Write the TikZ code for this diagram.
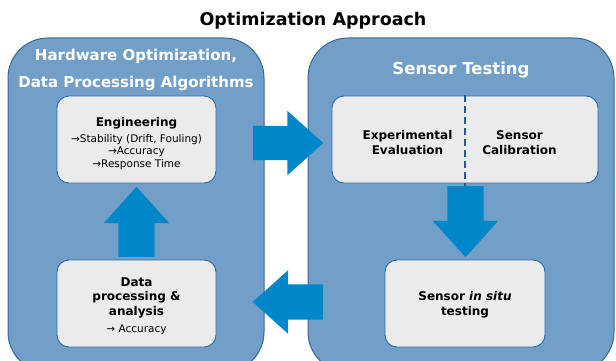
\documentclass[tikz,border=0pt]{standalone}
\usepackage{fontspec}
\setmainfont{DejaVu Sans}
\usetikzlibrary{shapes.arrows,positioning}
\definecolor{panelblue}{RGB}{114,159,199}
\definecolor{paneledge}{RGB}{50,104,158}
\definecolor{boxgray}{RGB}{235,235,235}
\definecolor{boxedge}{RGB}{44,106,168}
\definecolor{arrowblue}{RGB}{0,135,201}
\definecolor{dashblue}{RGB}{33,92,153}
\begin{document}
\begin{tikzpicture}[x=1pt,y=-1pt]

  % Definitions
  \tikzstyle{panel} = [rectangle, rounded corners=40pt, minimum height=334pt, draw=paneledge, fill=panelblue, line width=1pt]
  \tikzstyle{paneltitle} = [text=white, align=center]
  \tikzstyle{stage} = [rectangle, rounded corners=12pt, minimum height=87pt, draw=boxedge, fill=boxgray, line width=0.9pt]
  \tikzstyle{stagetext} = [align=center, font=\bfseries\fontsize{12}{14.5}\selectfont]
  \tikzstyle{blockarrow} = [single arrow, fill=arrowblue, inner xsep=0pt, single arrow tip angle=84, anchor=tail]
  \tikzstyle{divider} = [dashblue, line width=2pt, dash pattern=on 7pt off 4pt]

  \useasboundingbox (0,0) rectangle (616,361);

  \node (title) at (313,21) {\bfseries\fontsize{17.5}{20}\selectfont Optimization Approach};

  % panels
  \node (hw) [panel, minimum width=256pt] at (136,205) {};
  \node (st) [panel, minimum width=306pt] at (461,205) {};
  \node (hwtitle) [paneltitle, font=\bfseries\fontsize{15}{27}\selectfont, below=8pt of hw.north] {Hardware Optimization,\\Data Processing Algorithms};
  \node (sttitle) [paneltitle, font=\bfseries\fontsize{16.5}{20}\selectfont, below=21pt of st.north] {Sensor Testing};

  % stages
  \node (eng) [stage, minimum width=159pt] at (136.5,139.5) {};
  \node (engtext) [stagetext, font=\fontsize{10.5}{12.5}\selectfont] at ([yshift=-4pt]eng.center)
    {{\bfseries\fontsize{12}{14}\selectfont Engineering}\\[3pt]→Stability (Drift, Fouling)\\→Accuracy\\→Response Time};
  \node (dp) [stage, minimum width=159pt] at (136.5,303.5) {};
  \node (dptext) [stagetext] at ([yshift=-2.5pt]dp.center)
    {Data\\processing \&\\analysis\\[3pt]\normalfont\fontsize{10.5}{12.5}\selectfont → Accuracy};
  \node (exp) [stage, minimum width=266pt] at (465,139.5) {};
  \node (eval) [stagetext] at (407.5,142.5) {Experimental\\Evaluation};
  \node (calib) [stagetext] at (519.5,142.5) {Sensor\\Calibration};
  \node (situ) [stage, minimum width=160pt] at (465,303.5) {};
  \node (situtext) [stagetext] at ([yshift=-1pt]situ.center) {Sensor \emph{in situ}\\testing};

  \draw [divider] ([yshift=1pt]exp.north) -- ([yshift=-4pt]exp.south);

  % flow arrows
  \node (a1) [blockarrow, minimum height=70pt, inner ysep=17pt, single arrow head extend=15pt] at (253,143) {};
  \node (a2) [blockarrow, minimum height=71pt, inner ysep=18pt, single arrow head extend=14.5pt, rotate=-90] at (465.5,186) {};
  \node (a3) [blockarrow, minimum height=70pt, inner ysep=17.5pt, single arrow head extend=14pt, rotate=180] at (323,302) {};
  \node (a4) [blockarrow, minimum height=70pt, inner ysep=18pt, single arrow head extend=14.5pt, rotate=90] at (136.5,257) {};

\end{tikzpicture}
\end{document}
